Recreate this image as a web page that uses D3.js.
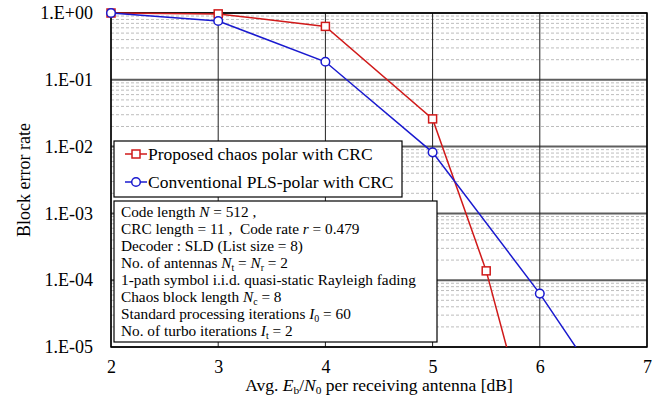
<!DOCTYPE html>
<html>
<head>
<meta charset="utf-8">
<script src="https://cdn.jsdelivr.net/npm/d3@7"></script>
<style>
  html, body { margin: 0; padding: 0; background: #fff; }
  svg { display: block; font-family: "Liberation Serif", "Times New Roman", serif; }
</style>
</head>
<body>
<svg id="chart" width="667" height="408"></svg>
<script>
// Eb/N0 sweep points [dB]
const snrProposed = [2, 3, 4, 5, 5.5, 6];
const blerProposed = [1.0, 0.97, 0.63, 0.026, 1.38e-4, 1.4e-7];
const snrConventional = [2, 3, 4, 5, 6, 7];
const blerConventional = [1.0, 0.76, 0.186, 0.0082, 6.3e-5, 2.6e-7];

const xTicks = [2, 3, 4, 5, 6, 7];
const yTicks = [1, 1e-1, 1e-2, 1e-3, 1e-4, 1e-5];
const yTickLabels = ["1.E+00", "1.E-01", "1.E-02", "1.E-03", "1.E-04", "1.E-05"];

const seriesNames = ["Proposed chaos polar with CRC", "Conventional PLS-polar with CRC"];
const seriesColors = ["#d01a1a", "#1a1acf"];

const width = 667, height = 408;
const margin = { left: 111, right: 20, top: 13, bottom: 61 };
const iw = width - margin.left - margin.right;
const ih = height - margin.top - margin.bottom;

const svg = d3.select("#chart");
const g = svg.append("g").attr("transform", `translate(${margin.left},${margin.top})`);

const x = d3.scaleLinear().domain([2, 7]).range([0, iw]);
const y = d3.scaleLog().domain([1e-5, 1]).range([ih, 0]);

// minor log gridlines (2..9 within each decade)
const minor = [];
for (let e = -5; e < 0; e++) for (let m = 2; m <= 9; m++) minor.push(m * Math.pow(10, e));
g.append("g").selectAll("line").data(minor).join("line")
  .attr("x1", 0).attr("x2", iw)
  .attr("y1", d => y(d)).attr("y2", d => y(d))
  .attr("stroke", "#bdbdbd").attr("stroke-width", 1).attr("stroke-dasharray", "3,2");

// decade gridlines
g.append("g").selectAll("line").data(yTicks).join("line")
  .attr("x1", 0).attr("x2", iw)
  .attr("y1", d => y(d)).attr("y2", d => y(d))
  .attr("stroke", "#5e5e5e").attr("stroke-width", 2);

// vertical gridlines
g.append("g").selectAll("line").data(xTicks).join("line")
  .attr("x1", d => x(d)).attr("x2", d => x(d))
  .attr("y1", 0).attr("y2", ih)
  .attr("stroke", "#222").attr("stroke-width", 1);

// axes
const xAxis = g.append("g").attr("transform", `translate(0,${ih})`)
  .call(d3.axisBottom(x).tickValues(xTicks).tickSize(0).tickPadding(13).tickFormat(d3.format("d")));
const yAxis = g.append("g")
  .call(d3.axisLeft(y).tickValues(yTicks).tickSize(0).tickPadding(18)
    .tickFormat((d, i) => yTickLabels[i]));
[xAxis, yAxis].forEach(a => {
  a.select(".domain").remove();
  a.selectAll("text").attr("font-size", 18).attr("fill", "#000")
    .attr("font-family", "Liberation Serif, Times New Roman, serif");
});

// plot frame
g.append("rect").attr("x", 0).attr("y", 0).attr("width", iw).attr("height", ih)
  .attr("fill", "none").attr("stroke", "#000").attr("stroke-width", 1.5);

// clip for curves
svg.append("defs").append("clipPath").attr("id", "plotClip")
  .append("rect").attr("x", -6).attr("y", -6).attr("width", iw + 6).attr("height", ih + 6);

const series = [
  { xs: snrProposed, ys: blerProposed, color: seriesColors[0], shape: "square" },
  { xs: snrConventional, ys: blerConventional, color: seriesColors[1], shape: "circle" }
];

const line = d3.line().x(d => x(d[0])).y(d => y(d[1]));
const curves = g.append("g").attr("clip-path", "url(#plotClip)");

function drawMarker(sel, shape, color) {
  if (shape === "square") {
    sel.append("rect").attr("x", -4).attr("y", -4).attr("width", 8).attr("height", 8)
      .attr("fill", "#fff").attr("stroke", color).attr("stroke-width", 1.5);
  } else {
    sel.append("circle").attr("r", 4.3)
      .attr("fill", "#fff").attr("stroke", color).attr("stroke-width", 1.5);
  }
}

series.forEach(s => {
  const pts = s.xs.map((v, i) => [v, s.ys[i]]);
  curves.append("path").datum(pts).attr("d", line)
    .attr("fill", "none").attr("stroke", s.color).attr("stroke-width", 1.5);
});
series.forEach(s => {
  const pts = s.xs.map((v, i) => [v, s.ys[i]]).filter(p => p[1] >= 1e-5);
  pts.forEach(p => {
    const m = curves.append("g").attr("transform", `translate(${x(p[0])},${y(p[1])})`);
    drawMarker(m, s.shape, s.color);
  });
});

// legend
const legend = g.append("g").attr("transform", `translate(${114 - margin.left},${141 - margin.top})`);
legend.append("rect").attr("width", 288).attr("height", 56)
  .attr("fill", "#fff").attr("stroke", "#000").attr("stroke-width", 1.2);
seriesNames.forEach((name, i) => {
  const row = legend.append("g").attr("transform", `translate(0,${13 + i * 28})`);
  row.append("line").attr("x1", 11).attr("x2", 33).attr("y1", 0).attr("y2", 0)
    .attr("stroke", series[i].color).attr("stroke-width", 1.5);
  const m = row.append("g").attr("transform", "translate(22,0)");
  drawMarker(m, series[i].shape, series[i].color);
  row.append("text").attr("x", 34).attr("y", 6).attr("font-size", 17.5).text(name);
});

// simulation parameter box
const info = g.append("g").attr("transform", `translate(${114 - margin.left},${201 - margin.top})`);
info.append("rect").attr("width", 323).attr("height", 141)
  .attr("fill", "#fff").attr("stroke", "#000").attr("stroke-width", 1.2);

const infoLines = [
  [["Code length "], ["N", "i"], [" = 512 ,"]],
  [["CRC length = 11 ,\u00a0\u00a0Code rate "], ["r", "i"], [" = 0.479"]],
  [["Decoder : SLD (List size = 8)"]],
  [["No. of antennas "], ["N", "i"], ["t", "sub"], [" = "], ["N", "i"], ["r", "sub"], [" = 2"]],
  [["1-path symbol i.i.d. quasi-static Rayleigh fading"]],
  [["Chaos block length "], ["N", "i"], ["c", "sub"], [" = 8"]],
  [["Standard processing iterations "], ["I", "i"], ["0", "sub"], [" = 60"]],
  [["No. of turbo iterations "], ["I", "i"], ["t", "sub"], [" = 2"]]
];

function richText(sel, parts, size) {
  parts.forEach(([t, kind]) => {
    const ts = sel.append("tspan").text(t);
    if (kind === "i") ts.attr("font-style", "italic");
    if (kind === "sub") ts.attr("font-size", size * 0.65).attr("baseline-shift", "-25%");
  });
}

infoLines.forEach((parts, i) => {
  const t = info.append("text").attr("x", 7).attr("y", 16 + i * 17).attr("font-size", 15.3);
  richText(t, parts, 15.3);
});

// axis titles
const xTitle = svg.append("text")
  .attr("x", margin.left + iw / 2).attr("y", 391)
  .attr("text-anchor", "middle").attr("font-size", 17.5);
richText(xTitle, [["Avg. "], ["E", "i"], ["b", "sub"], ["/"], ["N", "i"], ["0", "sub"], [" per receiving antenna [dB]"]], 17.5);

svg.append("text")
  .attr("transform", `translate(30,${margin.top + ih / 2}) rotate(-90)`)
  .attr("text-anchor", "middle").attr("font-size", 18)
  .text("Block error rate");
</script>
</body>
</html>
